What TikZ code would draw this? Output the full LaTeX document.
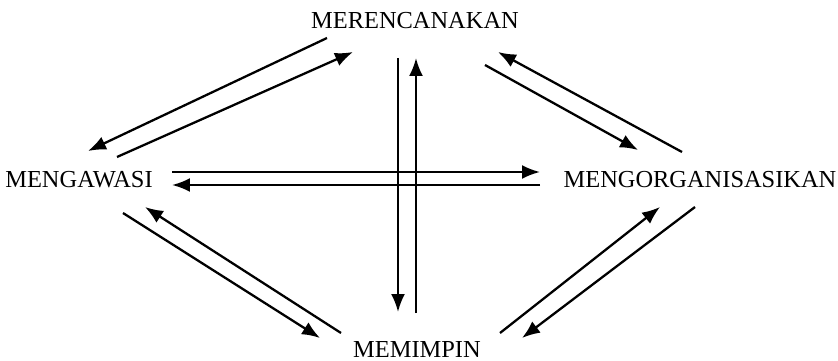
\documentclass[tikz,border=0pt]{standalone}
\usepackage{fontspec}
\setmainfont{Liberation Serif}
\usetikzlibrary{arrows.meta}
\begin{document}
\begin{tikzpicture}[x=0.02cm,y=-0.02cm,line width=1.3pt,
    >={Latex[length=3.6mm,width=2.8mm]},
    fungsi/.style={font=\fontsize{13.9}{16}\selectfont,inner sep=0pt}]
  \useasboundingbox (0,0) rectangle (838,361);
  \node[fungsi] (ren)  at (415,21)  {MERENCANAKAN};
  \node[fungsi] (awas) at (79,180)  {MENGAWASI};
  \node[fungsi] (org)  at (700,180) {MENGORGANISASIKAN};
  \node[fungsi] (pin)  at (417,350) {MEMIMPIN};
  % arrow ends
  \coordinate (ra1) at (327,38);  \coordinate (ra2) at (88,151);
  \coordinate (ar1) at (117,157); \coordinate (ar2) at (353,52);
  \coordinate (ro1) at (485,65);  \coordinate (ro2) at (638,150);
  \coordinate (or1) at (682,152); \coordinate (or2) at (498,52);
  \coordinate (ao1) at (172,172); \coordinate (ao2) at (540,172);
  \coordinate (oa1) at (540,185); \coordinate (oa2) at (172,185);
  \coordinate (rp1) at (398,58);  \coordinate (rp2) at (398,312);
  \coordinate (pr1) at (416,313); \coordinate (pr2) at (416,58);
  \coordinate (ap1) at (123,213); \coordinate (ap2) at (320,338);
  \coordinate (pa1) at (341,333); \coordinate (pa2) at (145,207);
  \coordinate (po1) at (500,333); \coordinate (po2) at (660,207);
  \coordinate (op1) at (695,207); \coordinate (op2) at (522,338);
  \draw[->] (ra1) -- (ra2);   % merencanakan -> mengawasi
  \draw[->] (ar1) -- (ar2);
  \draw[->] (ro1) -- (ro2);   % merencanakan -> mengorganisasikan
  \draw[->] (or1) -- (or2);
  \draw[->] (ao1) -- (ao2);   % mengawasi -> mengorganisasikan
  \draw[->] (oa1) -- (oa2);
  \draw[->] (rp1) -- (rp2);   % merencanakan -> memimpin
  \draw[->] (pr1) -- (pr2);
  \draw[->] (ap1) -- (ap2);   % mengawasi -> memimpin
  \draw[->] (pa1) -- (pa2);
  \draw[->] (po1) -- (po2);   % memimpin -> mengorganisasikan
  \draw[->] (op1) -- (op2);
\end{tikzpicture}
\end{document}
